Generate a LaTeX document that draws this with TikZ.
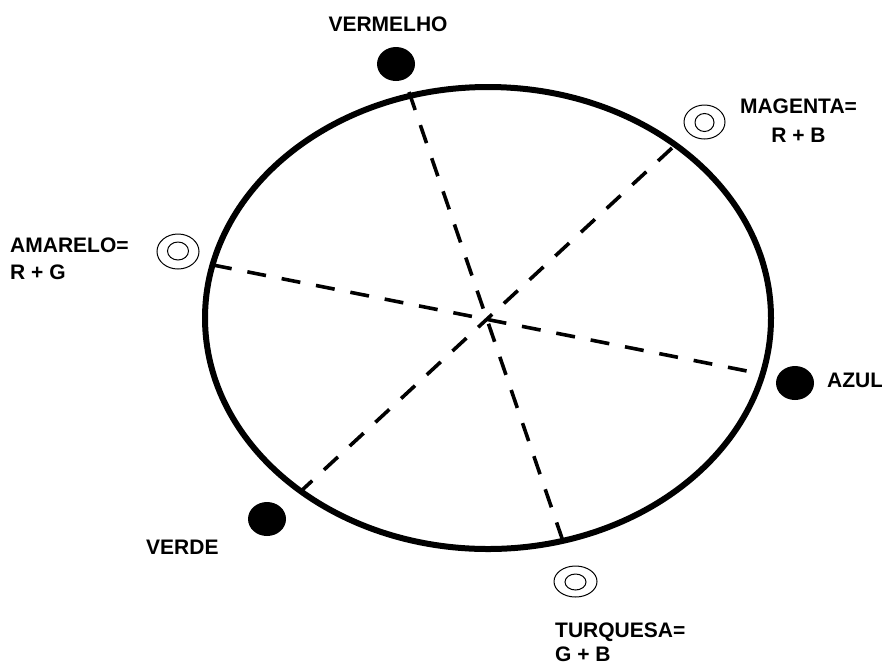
\documentclass[tikz,border=0pt]{standalone}
\usepackage{fontspec}
\setmainfont{Liberation Sans}
\begin{document}
\begin{tikzpicture}[x=1pt,y=-1pt,
  ring/.style={line width=6pt},
  diam/.style={line width=3.6pt, dash pattern=on 19pt off 16pt},
  dot/.style={fill=black},
  halo/.style={line width=1pt},
  lbl/.style={font=\fontsize{21}{25}\selectfont\bfseries, inner sep=0pt}]
\useasboundingbox (0,0) rectangle (882,665);
% main circle
\draw[ring] (488,318) ellipse [x radius=283, y radius=231];
% diameters
\coordinate (c) at (487,319);
\coordinate (v1) at (409,92);
\coordinate (v2) at (565,547);
\coordinate (m1) at (672,148);
\coordinate (m2) at (300,492);
\coordinate (a1) at (213,265);
\coordinate (a2) at (752,372);
\draw[diam] (v1) -- (v2);
\draw[diam] (m1) -- (m2);
\draw[diam] (a1) -- (a2);
% filled dots
\fill[dot] (396,64) ellipse [x radius=19, y radius=17];
\fill[dot] (795,383) ellipse [x radius=19, y radius=17];
\fill[dot] (267,519) ellipse [x radius=19, y radius=17];
% double circles
\draw[halo] (704.5,122) ellipse [x radius=20.5, y radius=17];
\draw[halo] (704.5,122.5) ellipse [x radius=9.5, y radius=9];
\draw[halo] (178,251.5) ellipse [x radius=21, y radius=17.5];
\draw[halo] (178,251) ellipse [x radius=10.5, y radius=9];
\draw[halo] (575.5,581.5) ellipse [x radius=21.5, y radius=15.5];
\draw[halo] (575.5,582) ellipse [x radius=10.5, y radius=8];
% labels
\node[lbl, anchor=base] (vermelho) at (388,31) {VERMELHO};
\node[lbl, anchor=base] (magenta) at (798.5,113) {MAGENTA=};
\node[lbl, anchor=base] (magenta2) at (798.5,142) {R + B};
\node[lbl, anchor=base west] (amarelo) at (10,252) {AMARELO=};
\node[lbl, anchor=base west] (amarelo2) at (10,279) {R + G};
\node[lbl, anchor=base west] (azul) at (827,387) {AZUL};
\node[lbl, anchor=base west] (verde) at (146,554) {VERDE};
\node[lbl, anchor=base west] (turquesa) at (555,637) {TURQUESA=};
\node[lbl, anchor=base west] (turquesa2) at (555,661) {G + B};
\end{tikzpicture}
\end{document}
